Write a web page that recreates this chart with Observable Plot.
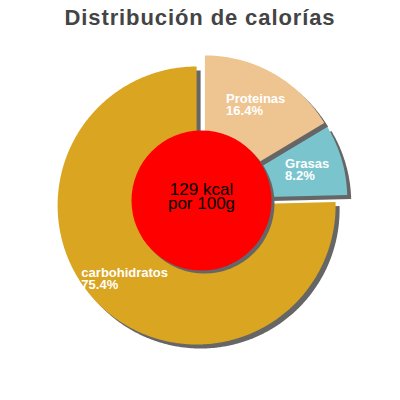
<!DOCTYPE html>
<html><head><meta charset="utf-8">
<script src="https://cdn.jsdelivr.net/npm/d3@7"></script>
<script src="https://cdn.jsdelivr.net/npm/@observablehq/plot@0.6"></script>
<style>
body{margin:0;background:#fff;width:400px;height:400px;overflow:hidden;font-family:"Liberation Sans",Arial,sans-serif}
#title{height:36px;line-height:35px;text-align:center;font-size:22px;font-weight:bold;color:#444;letter-spacing:0.9px;white-space:nowrap}
#chart svg{display:block}
</style></head><body>
<div id="title">Distribución de calorías</div>
<div id="chart"></div>
<script>
// ---- data ----
const categories = ["Proteinas", "Grasas", "carbohidratos"];
const values = [16.4, 8.2, 75.4];
const colors = ["#EEC591", "#7AC5CD", "#DAA520"];
const centerLines = ["129 kcal", "por 100g"];

// ---- layout ----
const W = 400, H = 364;
const CX = 201, CY = 164, R = 139, EXPLODE = 7, LABEL_R = 103;
const LABEL_FONT = 13, CENTER_FONT = 17;

const arcs = d3.pie().sort(null).value(d => d.value)(
  categories.map((name, i) => ({name, value: values[i]}))
);

const shapePts = [];
const labels = [];
const ctx = document.createElement("canvas").getContext("2d");
ctx.font = `bold ${LABEL_FONT}px "Liberation Sans"`;
arcs.forEach(a => {
  const mid = (a.startAngle + a.endAngle) / 2;
  const cx = CX + EXPLODE * Math.sin(mid), cy = CY - EXPLODE * Math.cos(mid);
  const name = a.data.name;
  shapePts.push({name, x: cx, y: cy});
  const n = Math.max(2, Math.ceil((a.endAngle - a.startAngle) / (Math.PI / 360)));
  for (let k = 0; k <= n; k++) {
    const t = a.startAngle + (a.endAngle - a.startAngle) * k / n;
    shapePts.push({name, x: cx + R * Math.sin(t), y: cy - R * Math.cos(t)});
  }
  const pct = a.data.value.toFixed(1) + "%";
  const w = Math.max(ctx.measureText(name).width, ctx.measureText(pct).width);
  const ax = cx + LABEL_R * Math.sin(mid), ay = cy - LABEL_R * Math.cos(mid);
  labels.push({x: ax - w / 2, y: ay + 10, text: name + "\n" + pct});
});

const center = [{x: CX, y: CY, text: centerLines.join("\n")}];

const plot = Plot.plot({
  width: W, height: H,
  margin: 0,
  x: {domain: [0, W], range: [0, W], axis: null},
  y: {domain: [0, H], range: [0, H], axis: null},
  color: {domain: categories, range: colors},
  style: {fontFamily: "'Liberation Sans', Arial, sans-serif", background: "white"},
  marks: [
    Plot.line(shapePts, {x: "x", y: "y", z: "name", fill: "#666", stroke: "none", curve: "linear-closed", dx: 4, dy: 4}),
    Plot.line(shapePts, {x: "x", y: "y", z: "name", fill: "name", stroke: "none", curve: "linear-closed"}),
    Plot.dot(center, {x: "x", y: "y", r: 70, fill: "#666", stroke: "none", dx: 3, dy: 3}),
    Plot.dot(center, {x: "x", y: "y", r: 70, fill: "#FF0000", stroke: "none"}),
    Plot.text(labels, {x: "x", y: "y", text: "text", textAnchor: "start", lineAnchor: "bottom", lineHeight: 0.92, fontSize: LABEL_FONT, fontWeight: "bold", fill: "white"}),
    Plot.text(center, {x: "x", y: "y", text: "text", textAnchor: "middle", lineAnchor: "bottom", lineHeight: 0.82, fontSize: CENTER_FONT, fill: "black", dy: 8})
  ]
});
document.getElementById("chart").appendChild(plot);
</script>
</body></html>
